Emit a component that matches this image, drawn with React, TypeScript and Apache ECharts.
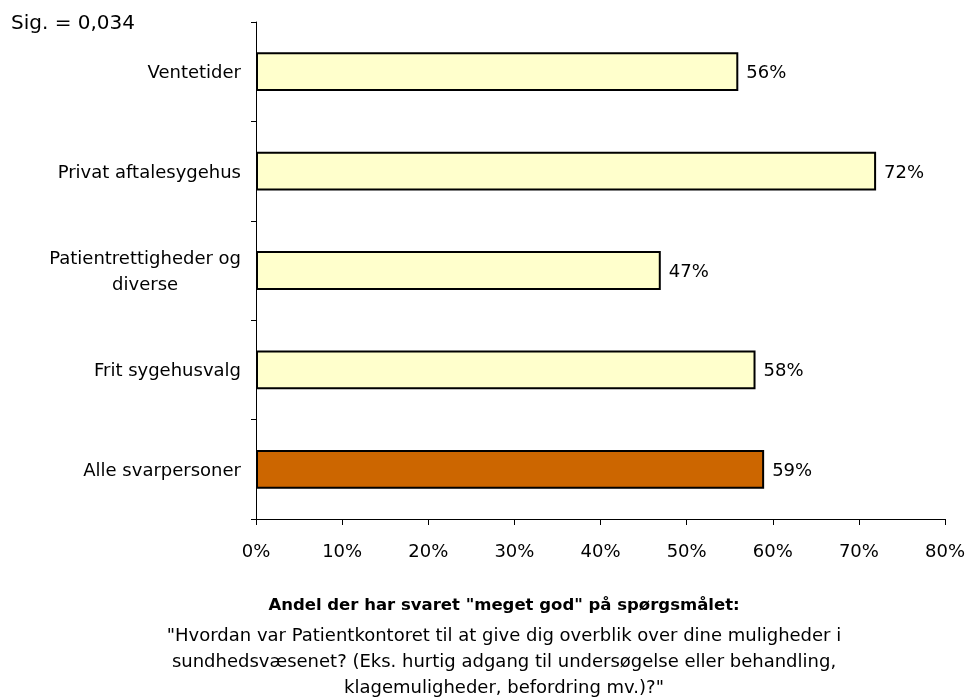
import React, { useEffect, useRef } from "react";
import * as echarts from "echarts";

const categories = [
  "Ventetider",
  "Privat aftalesygehus",
  "Patientrettigheder og\ndiverse",
  "Frit sygehusvalg",
  "Alle svarpersoner",
];
const values = [56, 72, 47, 58, 59];
const barColors = ["#FFFFCC", "#FFFFCC", "#FFFFCC", "#FFFFCC", "#CC6600"];
const xTicks = [0, 10, 20, 30, 40, 50, 60, 70, 80];
const sigText = "Sig. = 0,034";
const footTitle = 'Andel der har svaret "meget god" på spørgsmålet:';
const footLines = [
  '"Hvordan var Patientkontoret til at give dig overblik over dine muligheder i',
  "sundhedsvæsenet? (Eks. hurtig adgang til undersøgelse eller behandling,",
  'klagemuligheder, befordring mv.)?"',
];

const FONT = "'DejaVu Sans', sans-serif";
const FS = 18;

export default function App() {
  const ref = useRef<HTMLDivElement>(null);
  useEffect(() => {
    if (!ref.current) return;
    const chart = echarts.init(ref.current, null, { renderer: "svg" });
    chart.setOption({
      animation: false,
      textStyle: { fontFamily: FONT },
      grid: { left: 256, right: 25, top: 22, bottom: 180, containLabel: false },
      xAxis: {
        type: "value",
        min: xTicks[0],
        max: xTicks[xTicks.length - 1],
        interval: 10,
        splitLine: { show: false },
        axisLine: { show: true, lineStyle: { color: "#000", width: 1 } },
        axisTick: { show: true, length: 6, lineStyle: { color: "#000" } },
        axisLabel: {
          formatter: (v: number) => v + "%",
          color: "#000",
          fontSize: FS,
          margin: 22,
          fontFamily: FONT,
        },
      },
      yAxis: {
        type: "category",
        data: categories,
        inverse: true,
        axisLine: { show: true, lineStyle: { color: "#000", width: 1 } },
        axisTick: { show: true, length: 5, lineStyle: { color: "#000" } },
        axisLabel: {
          color: "#000",
          fontSize: FS,
          margin: 15,
          fontFamily: FONT,
          lineHeight: 26,
          formatter: (v: string) =>
            v.indexOf("\n") >= 0
              ? v
                  .split("\n")
                  .map((s) => "{c|" + s + "}")
                  .join("\n")
              : v,
          rich: {
            c: { align: "center", fontSize: FS, color: "#000", fontFamily: FONT, lineHeight: 26 },
          },
        },
      },
      series: [
        {
          type: "bar",
          data: values.map((v, i) => ({
            value: v,
            itemStyle: { color: barColors[i] },
          })),
          barCategoryGap: "61%",
          itemStyle: { borderColor: "#000", borderWidth: 2 },
          label: {
            show: true,
            position: "right",
            distance: 8,
            formatter: (p: any) => p.value + "%",
            color: "#000",
            fontSize: FS,
            fontFamily: FONT,
          },
        },
      ],
      graphic: [
        {
          type: "text",
          x: 11,
          y: 22,
          style: {
            text: sigText,
            fontSize: 20,
            fill: "#000",
            fontFamily: FONT,
            textVerticalAlign: "middle",
          },
        },
        {
          type: "text",
          x: 504,
          y: 604,
          style: {
            text: footTitle,
            fontSize: 16.5,
            fontWeight: "bold",
            fill: "#000",
            fontFamily: FONT,
            textAlign: "center",
            textVerticalAlign: "middle",
          },
        },
        ...footLines.map((t, i) => ({
          type: "text",
          x: 504,
          y: 634 + i * 26,
          style: {
            text: t,
            fontSize: 18,
            fill: "#000",
            fontFamily: FONT,
            textAlign: "center",
            textVerticalAlign: "middle",
          },
        })),
      ],
    });
    return () => chart.dispose();
  }, []);
  return (
    <div
      ref={ref}
      style={{ position: "fixed", left: 0, top: 0, width: 970, height: 699 }}
    />
  );
}
